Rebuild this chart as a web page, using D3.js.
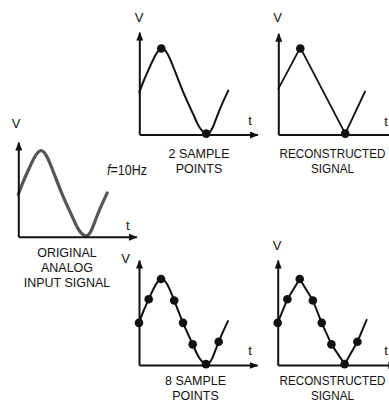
<!DOCTYPE html>
<html><head><meta charset="utf-8">
<script src="https://cdn.jsdelivr.net/npm/d3@7"></script>
<style>html,body{margin:0;padding:0;background:#fff;overflow:hidden}</style>
</head><body>
<svg id="c" width="389" height="402"></svg>
<script>
// ---------- data (t in ms, V in arbitrary units) ----------
const analogT   = [0, 5, 11, 18, 25, 32, 40, 50, 61, 68, 76, 83, 90.5, 101];
const analogV   = [0.98, 1.25, 1.53, 1.83, 2.0, 1.88, 1.5, 0.98, 0.48, 0.18, 0.02, 0.15, 0.54, 1.02];
const samples2T = [25, 76];
const samples2V = [2.0, 0.02];
const recon2T   = [0, 25, 76, 98.5];
const recon2V   = [1.06, 2.02, 0.02, 1.0];
const samples8T = [0, 11, 25, 40, 50, 61, 76, 90.5];
const samples8V = [0.98, 1.53, 2.0, 1.5, 0.98, 0.48, 0.02, 0.54];
const recon8T   = [0, 11, 25, 40, 50, 61, 76, 90.5, 101];
const recon8V   = [0.98, 1.53, 2.0, 1.5, 0.98, 0.48, 0.02, 0.54, 1.05];
const axisLabelV = "V";
const axisLabelT = "t";
const captionOrig = ["ORIGINAL", "ANALOG", "INPUT SIGNAL"];
const caption2    = ["2 SAMPLE", "POINTS"];
const caption8    = ["8 SAMPLE", "POINTS"];
const captionRec  = ["RECONSTRUCTED", "SIGNAL"];
const freqItalic = "f";
const freqRest = "=10Hz";

// ---------- layout ----------
const svg = d3.select("#c");
const FONT = "'Liberation Sans', Arial, sans-serif";
const defs = svg.append("defs");
defs.append("marker").attr("id","arr")
  .attr("viewBox","0 0 10 8").attr("refX",9).attr("refY",4)
  .attr("markerWidth",9).attr("markerHeight",7).attr("markerUnits","userSpaceOnUse")
  .attr("orient","auto")
  .append("path").attr("d","M0,0 L10,4 L0,8 Z").attr("fill","#111");

const zip = (a,b) => a.map((v,i)=>[v,b[i]]);

const panels = [
  {ox:18.3, oy:236.7, vTop:2.2, vl:[16,128], tl:[127.7,230], cx:67, sx:0.96, lines:[256.5,271.5,286.5], cap:captionOrig,
   curve:{pts:zip(analogT,analogV), smooth:true, color:"#555", w:3.2}},
  {ox:139.3, oy:134.5, vTop:2.38, vl:[139,21.5], tl:[250,125], cx:199, sx:0.96, lines:[157.5,172.5], cap:caption2,
   curve:{pts:zip(analogT,analogV), smooth:true, color:"#111", w:2}, dots:zip(samples2T,samples2V)},
  {ox:278.3, oy:134.5, vTop:2.35, vl:[277.7,22], tl:[386,126], cx:332.5, sx:0.9, lines:[157.5,172.5], cap:captionRec,
   curve:{pts:zip(recon2T,recon2V), smooth:false, color:"#111", w:1.8}, dots:zip(samples2T,samples2V)},
  {ox:139, oy:365, vTop:2.44, vl:[125.5,263], tl:[250,355], cx:195.5, sx:0.96, lines:[385,400], cap:caption8,
   curve:{pts:zip(analogT,analogV), smooth:true, color:"#111", w:2}, dots:zip(samples8T,samples8V)},
  {ox:277.7, oy:365, vTop:2.44, vl:[277,250], tl:[386,355], cx:332.5, sx:0.9, lines:[385,400], cap:captionRec,
   curve:{pts:zip(recon8T,recon8V), smooth:false, color:"#111", w:2}, dots:zip(samples8T,samples8V)}
];

panels.forEach(p => {
  const g = svg.append("g");
  const x = d3.scaleLinear().domain([0,134]).range([p.ox, p.ox+118]);
  const y = d3.scaleLinear().domain([0,p.vTop]).range([p.oy, p.oy - p.vTop*43]);

  const line = d3.line().x(d=>x(d[0])).y(d=>y(d[1]))
    .curve(p.curve.smooth ? d3.curveNatural : d3.curveLinear);
  g.append("path").datum(p.curve.pts).attr("d",line)
    .attr("fill","none").attr("stroke",p.curve.color).attr("stroke-width",p.curve.w)
    .attr("stroke-linejoin","round").attr("stroke-linecap","round");

  const xa = g.append("g").attr("transform",`translate(0,${p.oy})`)
    .call(d3.axisBottom(x).tickValues([]).tickSizeOuter(0));
  const ya = g.append("g").attr("transform",`translate(${p.ox},0)`)
    .call(d3.axisLeft(y).tickValues([]).tickSizeOuter(0));
  [xa,ya].forEach(a => a.select(".domain").attr("stroke","#111").attr("stroke-width",2)
    .attr("marker-end","url(#arr)"));

  if (p.dots) g.selectAll("circle").data(p.dots).join("circle")
    .attr("cx",d=>x(d[0])).attr("cy",d=>y(d[1])).attr("r",4.3).attr("fill","#111");

  g.append("text").attr("x",p.vl[0]).attr("y",p.vl[1]).attr("text-anchor","middle")
    .attr("font-family",FONT).attr("font-size",13).attr("fill","#111").text(axisLabelV);
  g.append("text").attr("x",p.tl[0]).attr("y",p.tl[1]).attr("text-anchor","middle")
    .attr("font-family",FONT).attr("font-size",13).attr("fill","#111").text(axisLabelT);

  p.cap.forEach((s,i)=>{
    g.append("text").attr("text-anchor","middle")
      .attr("transform",`translate(${p.cx},${p.lines[i]}) scale(${p.sx},1.05)`)
      .attr("font-family",FONT).attr("font-size",13).attr("fill","#111").text(s);
  });
});

const ft = svg.append("text").attr("transform","translate(107,175) scale(1,1.1)")
  .attr("font-family",FONT).attr("font-size",12.5).attr("fill","#111");
ft.append("tspan").attr("font-style","italic").text(freqItalic);
ft.append("tspan").text(freqRest);
</script>
</body></html>
